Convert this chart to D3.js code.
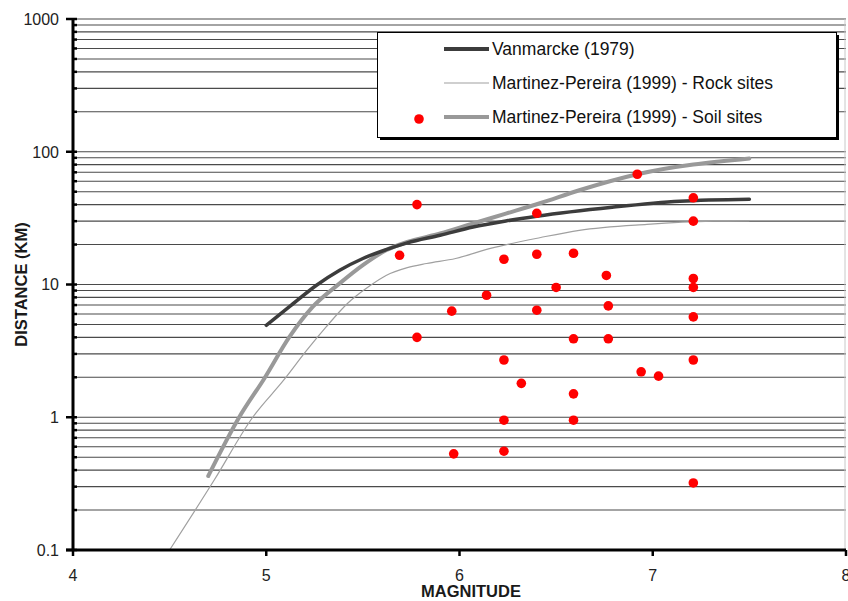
<!DOCTYPE html>
<html>
<head>
<meta charset="utf-8">
<script src="https://cdn.jsdelivr.net/npm/d3@7"></script>
<style>
  body { margin: 0; background: #fff; }
  svg { font-family: "Liberation Sans", Arial, sans-serif; }
</style>
</head>
<body>
<div id="chart"></div>
<script>
// magnitude / distance (km)
var vanmarcke = [
  [5.00, 4.93], [5.12, 6.8], [5.26, 9.87], [5.38, 12.8], [5.50, 15.7], [5.62, 18.3],
  [5.73, 20.6], [5.90, 23.5], [6.07, 27.1], [6.24, 30.1], [6.40, 32.7], [6.79, 38.2],
  [7.14, 42.4], [7.50, 43.9]
];
var rockSites = [
  [4.50, 0.1], [4.73, 0.335], [4.93, 1.0], [5.09, 1.90],
  [5.21, 3.2], [5.31, 4.79], [5.42, 7.19], [5.54, 9.87], [5.62, 11.7], [5.73, 13.4],
  [5.83, 14.4], [5.98, 15.7], [6.16, 18.7], [6.42, 22.6], [6.62, 25.6], [6.97, 28.4],
  [7.31, 30.0], [7.50, 30.2]
];
var soilSites = [
  [4.70, 0.361], [4.86, 1.0], [4.99, 1.96],
  [5.12, 4.03], [5.24, 6.78], [5.38, 10.2], [5.50, 14.0], [5.62, 18.1], [5.73, 20.9],
  [5.90, 24.2], [6.07, 28.8], [6.24, 34.2], [6.42, 41.1], [6.62, 51.3], [6.92, 67.7],
  [7.50, 89.0]
];
var records = [
  [5.78, 40], [5.69, 16.6], [5.78, 4.0], [5.96, 6.3], [5.97, 0.53], [6.14, 8.3],
  [6.23, 15.5], [6.23, 2.7], [6.23, 0.95], [6.23, 0.555], [6.32, 1.8], [6.40, 34.4],
  [6.40, 16.9], [6.40, 6.4], [6.50, 9.5], [6.59, 17.2], [6.59, 3.9], [6.59, 1.5],
  [6.59, 0.95], [6.76, 11.7], [6.77, 6.9], [6.77, 3.9], [6.92, 67.7], [6.94, 2.2],
  [7.03, 2.04], [7.21, 45], [7.21, 30], [7.21, 11.1], [7.21, 9.5], [7.21, 5.7],
  [7.21, 2.7], [7.21, 0.32]
];
var xTicks = [4, 5, 6, 7, 8];
var yTicks = [0.1, 1, 10, 100, 1000];
var legendLabels = ["Vanmarcke (1979)", "Martinez-Pereira (1999) - Rock sites", "Martinez-Pereira (1999) - Soil sites"];

var width = 848, height = 601,
    margin = {top: 19, right: 2, bottom: 51, left: 73};

var svg = d3.select("#chart").append("svg")
    .attr("width", width)
    .attr("height", height);

var xScale = d3.scaleLinear().domain([4, 8]).range([margin.left, width - margin.right]);
var yScale = d3.scaleLog().domain([0.1, 1000]).range([height - margin.bottom, margin.top]);

// every 1..9 of each decade
var gridValues = [];
yTicks.forEach(function(t) {
  if (t === 1000) { gridValues.push(t); return; }
  for (var k = 1; k < 10; k++) gridValues.push(+(t * k).toPrecision(3));
});

svg.append("g").attr("class", "grid")
  .selectAll("line")
  .data(gridValues)
  .enter().append("line")
    .attr("x1", xScale(4))
    .attr("x2", xScale(8))
    .attr("y1", function(d) { return yScale(d); })
    .attr("y2", function(d) { return yScale(d); })
    .attr("stroke", "#4a4a4a")
    .attr("stroke-width", 1.1);

// right edge of the plot
svg.append("line")
  .attr("x1", xScale(8) - 1).attr("x2", xScale(8) - 1)
  .attr("y1", yScale(1000)).attr("y2", yScale(0.1))
  .attr("stroke", "#c8c8c8");

// curves
var line = d3.line()
  .x(function(d) { return xScale(d[0]); })
  .y(function(d) { return yScale(d[1]); })
  .curve(d3.curveMonotoneX);

svg.append("path").datum(rockSites)
  .attr("d", line).attr("fill", "none")
  .attr("stroke", "#a0a0a0").attr("stroke-width", 1.2);

svg.append("path").datum(soilSites)
  .attr("d", line).attr("fill", "none")
  .attr("stroke", "#999").attr("stroke-width", 4)
  .attr("stroke-linecap", "round");

svg.append("path").datum(vanmarcke)
  .attr("d", line).attr("fill", "none")
  .attr("stroke", "#3c3c3c").attr("stroke-width", 3.5)
  .attr("stroke-linecap", "round");

// data points
svg.append("g").selectAll("circle")
  .data(records)
  .enter().append("circle")
    .attr("cx", function(d) { return xScale(d[0]); })
    .attr("cy", function(d) { return yScale(d[1]); })
    .attr("r", 4.8)
    .attr("fill", "#ff0000");

// axes
var yAxis = svg.append("g");
yAxis.append("line")
  .attr("x1", xScale(4)).attr("x2", xScale(4))
  .attr("y1", yScale(1000) - 1).attr("y2", yScale(0.1) + 1)
  .attr("stroke", "#000").attr("stroke-width", 3);
yAxis.selectAll(".minor")
  .data(gridValues)
  .enter().append("line")
    .attr("x1", xScale(4))
    .attr("x2", xScale(4) + 4)
    .attr("y1", function(d) { return yScale(d); })
    .attr("y2", function(d) { return yScale(d); })
    .attr("stroke", "#000").attr("stroke-width", 2.5);
yAxis.selectAll(".major")
  .data(yTicks)
  .enter().append("line")
    .attr("x1", xScale(4) - 7)
    .attr("x2", xScale(4))
    .attr("y1", function(d) { return yScale(d); })
    .attr("y2", function(d) { return yScale(d); })
    .attr("stroke", "#000").attr("stroke-width", 2.5);
yAxis.selectAll("text")
  .data(yTicks)
  .enter().append("text")
    .attr("x", 59)
    .attr("y", function(d) { return yScale(d); })
    .attr("dy", "0.36em")
    .attr("text-anchor", "end")
    .attr("font-size", 16)
    .attr("fill", "#222")
    .text(function(d) { return d; });

var xAxis = svg.append("g");
xAxis.append("line")
  .attr("x1", xScale(4) - 7).attr("x2", xScale(8))
  .attr("y1", yScale(0.1)).attr("y2", yScale(0.1))
  .attr("stroke", "#000").attr("stroke-width", 3);
xAxis.selectAll(".tick")
  .data(xTicks)
  .enter().append("line")
    .attr("x1", function(d) { return xScale(d); })
    .attr("x2", function(d) { return xScale(d); })
    .attr("y1", yScale(0.1))
    .attr("y2", yScale(0.1) + 6)
    .attr("stroke", "#000").attr("stroke-width", 2.5);
xAxis.selectAll("text")
  .data(xTicks)
  .enter().append("text")
    .attr("x", function(d) { return xScale(d); })
    .attr("y", 581)
    .attr("text-anchor", "middle")
    .attr("font-size", 16)
    .attr("fill", "#222")
    .text(function(d) { return d; });

// axis titles
svg.append("text")
  .attr("x", 471).attr("y", 597)
  .attr("text-anchor", "middle")
  .attr("font-size", 16.5).attr("font-weight", "bold")
  .attr("fill", "#1a1a1a")
  .text("MAGNITUDE");

svg.append("text")
  .attr("transform", "translate(27," + ((yScale(1000) + yScale(0.1)) / 2) + ") rotate(-90)")
  .attr("text-anchor", "middle")
  .attr("font-size", 16.5).attr("font-weight", "bold")
  .attr("fill", "#1a1a1a")
  .text("DISTANCE (KM)");

// legend
var legend = svg.append("g").attr("transform", "translate(377,32)");
legend.append("rect")
  .attr("x", 3).attr("y", 3).attr("width", 459).attr("height", 105)
  .attr("fill", "#000");
legend.append("rect")
  .attr("x", 0.5).attr("y", 0.5).attr("width", 459).attr("height", 105)
  .attr("fill", "#fff").attr("stroke", "#000").attr("stroke-width", 1);

var legendStyles = [
  {color: "#3c3c3c", w: 4},
  {color: "#a0a0a0", w: 1.2},
  {color: "#999", w: 4}
];
var rowY = [17, 51, 85];

legendLabels.forEach(function(label, i) {
  legend.append("line")
    .attr("x1", 67).attr("x2", 112)
    .attr("y1", rowY[i]).attr("y2", rowY[i])
    .attr("stroke", legendStyles[i].color)
    .attr("stroke-width", legendStyles[i].w);
  legend.append("text")
    .attr("x", 115).attr("y", rowY[i])
    .attr("dy", "0.36em")
    .attr("font-size", 17.5)
    .attr("fill", "#111")
    .text(label);
});
legend.append("circle")
  .attr("cx", 42).attr("cy", 87)
  .attr("r", 4.8)
  .attr("fill", "#ff0000");
</script>
</body>
</html>
